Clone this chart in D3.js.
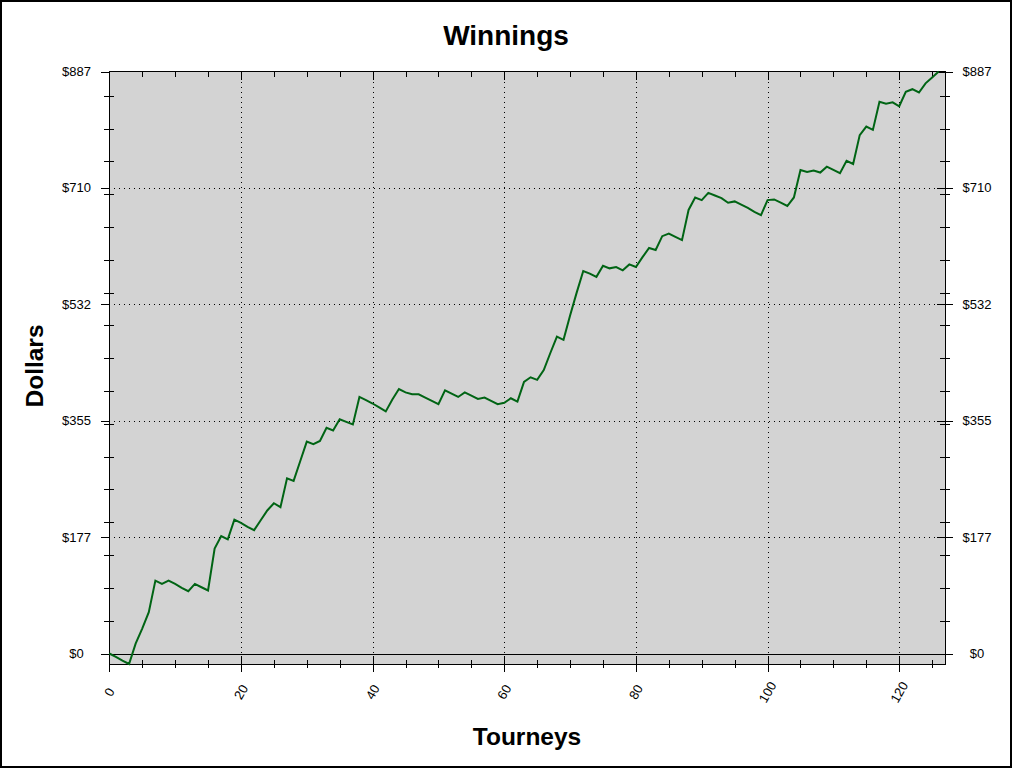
<!DOCTYPE html>
<html><head><meta charset="utf-8">
<script src="https://cdn.jsdelivr.net/npm/d3@7"></script>
<style>
html,body{margin:0;padding:0;background:#fff;}
svg{display:block;}
text{font-family:"Liberation Sans",Arial,sans-serif;}
</style></head>
<body>
<svg id="chart" width="1013" height="769"></svg>
<script>
const title = "Winnings";
const xTitle = "Tourneys";
const yTitle = "Dollars";
const tourneys = d3.range(0, 127);
const winnings = [
  0, -5, -11, -16, 15, 38, 63, 111, 106, 111,
  106, 100, 95, 106, 101, 96, 160, 179, 174, 204,
  199, 193, 188, 203, 218, 229, 223, 267, 263, 293,
  323, 319, 324, 344, 340, 357, 353, 349, 391, 386,
  381, 375, 369, 387, 403, 398, 395, 395, 390, 385,
  380, 401, 396, 391, 398, 393, 388, 390, 385, 380,
  382, 389, 384, 414, 421, 417, 432, 458, 483, 478,
  515, 550, 583, 579, 574, 591, 587, 589, 584, 593,
  589, 604, 618, 615, 636, 640, 635, 630, 676, 695,
  691, 702, 698, 694, 687, 689, 684, 679, 673, 668,
  691, 692, 687, 682, 695, 737, 734, 736, 733, 742,
  737, 732, 751, 746, 790, 803, 798, 841, 838, 840,
  834, 856, 860, 855, 869, 878, 887
];
const xTicks = [0, 20, 40, 60, 80, 100, 120];
const yMax = 887;
const yTicks = [0, 1, 2, 3, 4, 5].map(k => yMax * k / 5);
const yTickLabels = ["$0", "$177", "$355", "$532", "$710", "$887"];

const svg = d3.select("#chart");
const L = 109.3, R = 945.3, T = 71.5, B = 664;
const x = d3.scaleLinear().domain([0, 127]).range([L, R]);
const y = d3.scaleLinear().domain([d3.min(winnings), yMax]).range([B, T]);

// outer frame
svg.append("rect").attr("x", 1).attr("y", 1).attr("width", 1010).attr("height", 766)
  .attr("fill", "#fff").attr("stroke", "#000").attr("stroke-width", 2);

// plot background
svg.append("rect").attr("x", L).attr("y", T).attr("width", R - L).attr("height", B - T)
  .attr("fill", "#d3d3d3");

// grid lines
const grid = svg.append("g").attr("stroke", "#000").attr("stroke-width", 1)
  .attr("stroke-dasharray", "1,4").attr("shape-rendering", "crispEdges");
xTicks.filter(v => v > 0).forEach(v => {
  grid.append("line").attr("x1", Math.round(x(v)) + 0.5).attr("x2", Math.round(x(v)) + 0.5)
    .attr("y1", T).attr("y2", B);
});
yTicks.filter(v => v > 0 && v < yMax).forEach(v => {
  grid.append("line").attr("y1", Math.round(y(v)) + 0.5).attr("y2", Math.round(y(v)) + 0.5)
    .attr("x1", L).attr("x2", R);
});
// zero line
svg.append("line").attr("x1", L).attr("x2", R)
  .attr("y1", Math.round(y(0)) + 0.5).attr("y2", Math.round(y(0)) + 0.5)
  .attr("stroke", "#000").attr("stroke-width", 1).attr("shape-rendering", "crispEdges");

// axes with d3
const minorX = d3.range(0, 127, 5).filter(v => v % 20 !== 0);
const minorY = d3.range(50, yMax, 50);

function cleanAxis(g) { g.select(".domain").remove(); g.selectAll("text").remove(); }

// bottom major
svg.append("g").attr("transform", `translate(0,${B - 8})`)
  .call(d3.axisBottom(x).tickValues(xTicks).tickSize(16).tickSizeOuter(0)).call(cleanAxis);
// bottom minor
svg.append("g").attr("transform", `translate(0,${B - 4})`)
  .call(d3.axisBottom(x).tickValues(minorX).tickSize(8).tickSizeOuter(0)).call(cleanAxis);
// top major & minor (inward)
svg.append("g").attr("transform", `translate(0,${T})`)
  .call(d3.axisBottom(x).tickValues(xTicks.filter(v => v > 0)).tickSize(8).tickSizeOuter(0)).call(cleanAxis);
svg.append("g").attr("transform", `translate(0,${T})`)
  .call(d3.axisBottom(x).tickValues(minorX).tickSize(5).tickSizeOuter(0)).call(cleanAxis);
// left major (outward)
svg.append("g").attr("transform", `translate(${L},0)`)
  .call(d3.axisLeft(y).tickValues(yTicks).tickSize(8).tickSizeOuter(0)).call(cleanAxis);
// left minor (crossing)
svg.append("g").attr("transform", `translate(${L + 5},0)`)
  .call(d3.axisLeft(y).tickValues(minorY).tickSize(10).tickSizeOuter(0)).call(cleanAxis);
// right major (crossing)
svg.append("g").attr("transform", `translate(${R - 8},0)`)
  .call(d3.axisRight(y).tickValues(yTicks).tickSize(16).tickSizeOuter(0)).call(cleanAxis);
// right minor (crossing)
svg.append("g").attr("transform", `translate(${R - 5},0)`)
  .call(d3.axisRight(y).tickValues(minorY).tickSize(10).tickSizeOuter(0)).call(cleanAxis);

svg.selectAll(".tick line").attr("stroke", "#000").attr("shape-rendering", "crispEdges");

// plot border
svg.append("rect").attr("x", L).attr("y", T).attr("width", R - L).attr("height", B - T)
  .attr("fill", "none").attr("stroke", "#000").attr("stroke-width", 1)
  .attr("shape-rendering", "crispEdges");

// line
const line = d3.line().x((d, i) => x(tourneys[i])).y(d => y(d));
svg.append("path").datum(winnings).attr("d", line)
  .attr("fill", "none").attr("stroke", "#006414").attr("stroke-width", 2)
  .attr("stroke-linejoin", "miter");

// y tick labels
yTicks.forEach((v, i) => {
  svg.append("text").attr("x", 76.5).attr("y", y(v)).attr("dy", "0.35em")
    .attr("text-anchor", "middle").attr("font-size", 13).attr("fill", "#000").text(yTickLabels[i]);
  svg.append("text").attr("x", 977).attr("y", y(v)).attr("dy", "0.35em")
    .attr("text-anchor", "middle").attr("font-size", 13).attr("fill", "#000").text(yTickLabels[i]);
});
// x tick labels
xTicks.forEach(v => {
  svg.append("text").attr("transform", `translate(${x(v)},692) rotate(-60)`)
    .attr("dy", "0.35em").attr("text-anchor", "middle").attr("font-size", 13)
    .attr("fill", "#000").text(String(v));
});

// titles
svg.append("text").attr("x", 506).attr("y", 45).attr("text-anchor", "middle")
  .attr("font-size", 28).attr("font-weight", "bold").text(title);
svg.append("text").attr("x", 527).attr("y", 745).attr("text-anchor", "middle")
  .attr("font-size", 24.5).attr("font-weight", "bold").text(xTitle);
svg.append("text").attr("transform", "translate(43,366) rotate(-90)").attr("text-anchor", "middle")
  .attr("font-size", 24.5).attr("font-weight", "bold").text(yTitle);
</script>
</body></html>
